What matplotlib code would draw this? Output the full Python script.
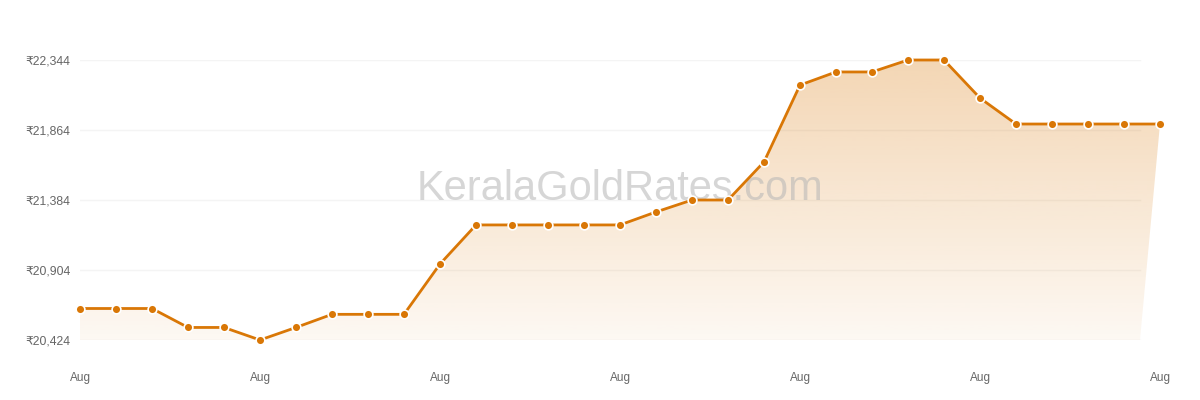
import numpy as np
import matplotlib
matplotlib.use('Agg')
import matplotlib.pyplot as plt
from matplotlib.patches import Polygon

plt.rcParams['font.family'] = ['Liberation Sans', 'DejaVu Sans']

# ── data ──────────────────────────────
prices = [20640, 20640, 20640, 20510, 20510, 20424, 20510, 20600, 20600, 20600,
          20945, 21213, 21213, 21213, 21213, 21213, 21302, 21384, 21384, 21645,
          22172, 22262, 22262, 22344, 22344, 22083, 21905, 21905, 21905, 21905,
          21905]
y_ticks = [20424, 20904, 21384, 21864, 22344]
x_tick_pos = [0, 5, 10, 15, 20, 25, 30]
x_tick_labels = ['Aug'] * 7
# ──────────────────────────────────────

LINE = '#d97706'
x = np.arange(len(prices))

fig = plt.figure(figsize=(12, 4), dpi=100)
ax = fig.add_axes([80 / 1200, 60 / 400, 1080 / 1200, 280 / 400])

for s in ax.spines.values():
    s.set_visible(False)

# light grid, stops a bit before the last point
grid_end = 1060 / 1080
for yv in y_ticks:
    ax.axhline(yv, xmin=0, xmax=grid_end, color='#f4f4f4', linewidth=1, zorder=0)

# gradient fill under the line
x_edge = (len(prices) - 1) * grid_end
verts = list(zip(x, prices)) + [(x_edge, y_ticks[0]), (0, y_ticks[0])]
poly = Polygon(verts, closed=True, facecolor='none', edgecolor='none')
ax.add_patch(poly)
grad = np.zeros((256, 1, 4))
grad[:, 0, :3] = matplotlib.colors.to_rgb(LINE)
grad[:, 0, 3] = np.linspace(0.3, 0.05, 256)
im = ax.imshow(grad, aspect='auto', origin='upper',
               extent=[0, len(prices) - 1, y_ticks[0], max(prices)],
               zorder=1, interpolation='bilinear')
im.set_clip_path(poly)
ax.set_xlim(0, len(prices) - 1)
ax.set_ylim(y_ticks[0], y_ticks[-1])

# watermark
ax.text(0.5, 0.54, 'KeralaGoldRates.com', transform=ax.transAxes,
        ha='center', va='center', fontsize=30, color='#b5b5b5', alpha=0.55,
        zorder=2)

ax.plot(x, prices, color=LINE, linewidth=2, marker='o', markersize=6.3,
        markerfacecolor=LINE, markeredgecolor='white', markeredgewidth=1.2,
        zorder=3, clip_on=False)

ax.set_yticks(y_ticks)
ax.set_yticklabels([f'₹{v:,}' for v in y_ticks])
ax.set_xticks(x_tick_pos)
ax.set_xticklabels(x_tick_labels)
ax.tick_params(axis='y', length=0, pad=7, labelsize=8.8, labelcolor='#666666')
ax.tick_params(axis='x', length=0, pad=23, labelsize=8.5, labelcolor='#666666')

fig.savefig('out.png', dpi=100, facecolor='white')
